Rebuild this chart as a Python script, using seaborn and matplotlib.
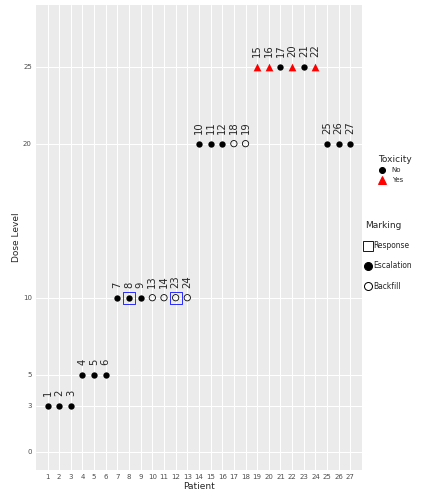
import matplotlib
matplotlib.use("Agg")
import matplotlib.pyplot as plt
import seaborn as sns
import pandas as pd
from matplotlib.lines import Line2D

x_pos = list(range(1, 28))
patient_ids = [1,2,3,4,5,6,7,8,9,13,14,23,24,10,11,12,18,19,15,16,17,20,21,22,25,26,27]
dose = [3,3,3,5,5,5,10,10,10,10,10,10,10,20,20,20,20,20,25,25,25,25,25,25,20,20,20]
toxicity = ["No"]*18 + ["Yes","Yes","No","Yes","No","Yes"] + ["No"]*3
marking = (["Escalation"]*9 + ["Backfill"]*4 + ["Escalation"]*3 + ["Backfill"]*2
           + ["Escalation"]*9)
response = [8, 12]  # x positions with response

df = pd.DataFrame(dict(x=x_pos, pid=patient_ids, dose=dose, tox=toxicity, mark=marking))

sns.set_theme(style="darkgrid", rc={"axes.facecolor": "#EBEBEB", "grid.color": "white"})
plt.rcParams['font.family'] = ['DejaVu Sans']
fig = plt.figure(figsize=(6, 7), dpi=72)
ax = fig.add_axes([0.083, 0.067, 0.755, 0.923])

for _, r in df.iterrows():
    if r.tox == "Yes":
        ax.scatter(r.x, r.dose, marker="^", s=60, color="red", zorder=3, linewidths=0)
    elif r.mark == "Backfill":
        ax.scatter(r.x, r.dose, marker="o", s=40, facecolor="none", edgecolor="black", linewidths=0.8, zorder=3)
    else:
        ax.scatter(r.x, r.dose, marker="o", s=40, color="black", zorder=3, linewidths=0)
    ax.text(r.x, r.dose + 0.6, str(r.pid), rotation=90, ha="center", va="bottom", fontsize=10)
for xr in response:
    d = df.loc[df.x == xr, "dose"].iloc[0]
    ax.scatter(xr, d, marker="s", s=140, facecolor="none", edgecolor="blue", linewidths=0.8, zorder=4)

ax.set_xlim(0, 28)
ax.set_ylim(-1.2, 29)
ax.set_xticks(x_pos)
ax.set_xticklabels([str(v) for v in x_pos], fontsize=7, color="#4D4D4D")
ax.set_yticks([0, 3, 5, 10, 20, 25])
ax.set_yticklabels(["0", "3", "5", "10", "20", "25"], fontsize=7, color="#4D4D4D")
ax.set_xlabel("Patient", fontsize=9, labelpad=2)
ax.set_ylabel("Dose Level", fontsize=9, labelpad=2)
ax.tick_params(length=2, pad=2)
for s in ax.spines.values():
    s.set_visible(False)

h1 = [Line2D([], [], marker="o", ls="", color="black", markersize=6),
      Line2D([], [], marker="^", ls="", color="red", markersize=8)]
fig.legend(h1, ["No", "Yes"], title="Toxicity", loc="upper left", bbox_to_anchor=(0.86, 0.705),
           frameon=False, fontsize=7, title_fontsize=9, handlelength=1.2, alignment="left")
h2 = [Line2D([], [], marker="s", ls="", markerfacecolor="none", markeredgecolor="blue", markersize=10),
      Line2D([], [], marker="o", ls="", color="black", markersize=8),
      Line2D([], [], marker="o", ls="", markerfacecolor="none", markeredgecolor="black", markersize=8)]
fig.legend(h2, ["Response", "Escalation", "Backfill"], title="Marking", loc="upper left",
           bbox_to_anchor=(0.83, 0.575), frameon=False, fontsize=7.5, title_fontsize=9,
           handlelength=0.8, handletextpad=0.2, labelspacing=1.5, alignment="left")
fig.savefig("out.png", dpi=72)
